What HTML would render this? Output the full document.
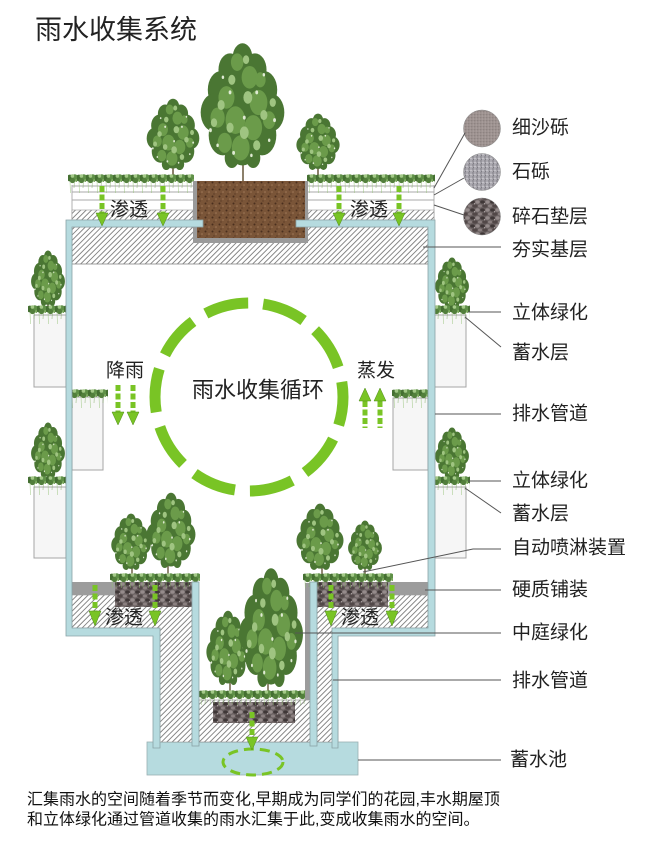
<!DOCTYPE html>
<html><head><meta charset="utf-8">
<style>
html,body{margin:0;padding:0;background:#fff;}
svg{display:block;}
text{font-family:"Liberation Sans","Noto Sans CJK SC",sans-serif;fill:#222;}
</style></head><body>
<svg width="660" height="850" viewBox="0 0 660 850" xmlns="http://www.w3.org/2000/svg">
<defs>
<pattern id="hatch" width="3.8" height="3.8" patternUnits="userSpaceOnUse" patternTransform="rotate(45)">
 <rect width="3.8" height="3.8" fill="#fff"/>
 <line x1="0.5" y1="0" x2="0.5" y2="3.8" stroke="#7d7d7d" stroke-width="0.9"/>
</pattern>
<pattern id="grass" width="9" height="22" patternUnits="userSpaceOnUse">
 <line x1="2" y1="8" x2="2.6" y2="20" stroke="#8fbf70" stroke-width="0.8" opacity="0.55"/>
 <line x1="6.5" y1="8" x2="6" y2="15" stroke="#7aa85c" stroke-width="0.8" opacity="0.55"/>
 <circle cx="2" cy="5" r="3.4" fill="#446f31"/>
 <circle cx="6.8" cy="4.5" r="3.2" fill="#5f9047"/>
 <circle cx="4.5" cy="7.5" r="2.6" fill="#527f3b"/>
 <circle cx="4.4" cy="3" r="1.8" fill="#a3c987"/>
 <circle cx="8.5" cy="7.5" r="1.5" fill="#7aa85c"/>
</pattern>
<pattern id="gravel" width="10" height="8" patternUnits="userSpaceOnUse">
 <rect width="10" height="8" fill="#6a6161"/>
 <ellipse cx="2.5" cy="2" rx="2.3" ry="1.6" fill="#3f3737"/>
 <ellipse cx="7.5" cy="2" rx="2.2" ry="1.7" fill="#958b8b"/>
 <ellipse cx="5" cy="6" rx="2.6" ry="1.7" fill="#524848"/>
 <ellipse cx="0" cy="6" rx="2" ry="1.5" fill="#8b8080"/>
 <ellipse cx="10" cy="6" rx="2" ry="1.5" fill="#8b8080"/>
 <circle cx="4.6" cy="3.8" r="0.6" fill="#c8c0c0"/>
</pattern>
<pattern id="soil" width="7" height="7" patternUnits="userSpaceOnUse">
 <rect width="7" height="7" fill="#7a5538"/>
 <circle cx="1.5" cy="1.5" r="1" fill="#4a2f1e"/>
 <circle cx="5" cy="4" r="0.8" fill="#a07858"/>
 <circle cx="3" cy="6" r="0.7" fill="#5a3b26"/>
</pattern>
<pattern id="sand" width="3" height="3" patternUnits="userSpaceOnUse">
 <rect width="3" height="3" fill="#9d9290"/>
 <circle cx="0.8" cy="0.8" r="0.5" fill="#7a706e"/>
 <circle cx="2.2" cy="2" r="0.5" fill="#bcb3b1"/>
</pattern>
<pattern id="stone" width="4" height="4" patternUnits="userSpaceOnUse">
 <rect width="4" height="4" fill="#a9a7ae"/>
 <circle cx="1" cy="1" r="0.7" fill="#76737b"/>
 <circle cx="3" cy="2.5" r="0.8" fill="#cfcdd2"/>
 <circle cx="1.5" cy="3.2" r="0.5" fill="#5f5c63"/>
</pattern>
<symbol id="crown" viewBox="0 0 100 100" preserveAspectRatio="none">
 <g fill="#4a7633">
  <circle cx="50" cy="12" r="11"/><circle cx="36" cy="22" r="13"/><circle cx="64" cy="22" r="13"/>
  <circle cx="26" cy="38" r="15"/><circle cx="74" cy="38" r="15"/><circle cx="50" cy="32" r="18"/>
  <circle cx="18" cy="56" r="15"/><circle cx="82" cy="56" r="15"/><circle cx="50" cy="55" r="24"/>
  <circle cx="28" cy="74" r="16"/><circle cx="72" cy="74" r="16"/><circle cx="50" cy="80" r="18"/>
  <circle cx="38" cy="92" r="8"/><circle cx="62" cy="92" r="8"/>
 </g>
 <g fill="#6b9b4a">
  <circle cx="44" cy="16" r="7"/><circle cx="58" cy="28" r="9"/><circle cx="32" cy="44" r="9"/>
  <circle cx="68" cy="48" r="10"/><circle cx="42" cy="62" r="11"/><circle cx="62" cy="68" r="10"/>
  <circle cx="22" cy="60" r="8"/><circle cx="80" cy="62" r="7"/><circle cx="48" cy="84" r="10"/>
  <circle cx="30" cy="80" r="8"/><circle cx="70" cy="30" r="6"/>
 </g>
 <g fill="#9fc481">
  <circle cx="38" cy="30" r="4"/><circle cx="56" cy="44" r="5"/><circle cx="26" cy="50" r="4"/>
  <circle cx="74" cy="58" r="4"/><circle cx="52" cy="72" r="5"/><circle cx="36" cy="68" r="4"/>
  <circle cx="66" cy="82" r="4"/><circle cx="18" cy="64" r="3.5"/><circle cx="84" cy="48" r="3.5"/>
  <circle cx="54" cy="14" r="3.5"/>
 </g>
 <g fill="#dfead3">
  <circle cx="36" cy="40" r="1.6"/><circle cx="66" cy="40" r="1.6"/><circle cx="52" cy="60" r="1.6"/>
  <circle cx="40" cy="88" r="1.6"/><circle cx="14" cy="70" r="1.6"/><circle cx="86" cy="62" r="1.6"/>
  <circle cx="28" cy="28" r="1.4"/><circle cx="74" cy="26" r="1.4"/><circle cx="60" cy="90" r="1.4"/>
  <circle cx="22" cy="82" r="1.4"/><circle cx="80" cy="78" r="1.4"/>
 </g>
</symbol>
</defs>

<!-- Title -->
<text x="35" y="30" font-size="27" dominant-baseline="central">雨水收集系统</text>

<!-- trees top -->
<g stroke="#6f6046" stroke-width="1.6">
 <line x1="243" y1="140" x2="243" y2="183"/>
 <line x1="173" y1="150" x2="173" y2="180"/>
 <line x1="318" y1="155" x2="318" y2="180"/>
</g>
<use href="#crown" x="145" y="98" width="56" height="72"/>
<use href="#crown" x="295" y="113" width="46" height="57"/>
<use href="#crown" x="198" y="42" width="89" height="126"/>

<!-- roof planter layers -->
<g stroke="#aaa" stroke-width="0.9">
 <line x1="72" y1="186" x2="193" y2="186"/><line x1="72" y1="192" x2="193" y2="192"/>
 <line x1="72" y1="200" x2="193" y2="200"/>
 <line x1="308" y1="186" x2="434" y2="186"/><line x1="308" y1="192" x2="434" y2="192"/>
 <line x1="308" y1="200" x2="434" y2="200"/>
 <line x1="72" y1="185" x2="72" y2="220"/><line x1="434" y1="185" x2="434" y2="220"/>
</g>
<rect x="72" y="210" width="121" height="10" fill="url(#hatch)" stroke="#999" stroke-width="0.6"/>
<rect x="308" y="210" width="126" height="10" fill="url(#hatch)" stroke="#999" stroke-width="0.6"/>
<rect x="0" y="0" width="126" height="22" fill="url(#grass)" transform="translate(68,173)"/>
<rect x="0" y="0" width="128" height="22" fill="url(#grass)" transform="translate(307,173)"/>

<!-- base hatch -->
<rect x="72" y="227" width="356" height="37" fill="url(#hatch)" stroke="#888" stroke-width="0.8"/>

<!-- soil box -->
<rect x="193" y="181" width="115" height="62" fill="#9a9a9a"/>
<rect x="0" y="0" width="108" height="57" fill="url(#soil)" transform="translate(197,181)"/>

<!-- wall planters -->
<g fill="#f6f6f6" stroke="#a5a5a5" stroke-width="1">
 <rect x="34" y="315" width="32" height="72"/>
 <rect x="34" y="487" width="32" height="71"/>
 <rect x="72" y="397" width="31" height="73"/>
 <rect x="393" y="398" width="35" height="72"/>
 <rect x="434" y="315" width="32" height="72"/>
 <rect x="434" y="487" width="32" height="71"/>
</g>
<g stroke="#6f6046" stroke-width="1.4">
 <line x1="48" y1="290" x2="48" y2="312"/><line x1="48" y1="460" x2="48" y2="482"/>
 <line x1="452" y1="290" x2="452" y2="312"/><line x1="452" y1="460" x2="452" y2="482"/>
</g>
<use href="#crown" x="30" y="250" width="36" height="56"/>
<use href="#crown" x="30" y="422" width="36" height="56"/>
<use href="#crown" x="434" y="257" width="36" height="52"/>
<use href="#crown" x="434" y="427" width="36" height="52"/>
<rect x="0" y="0" width="38" height="20" fill="url(#grass)" transform="translate(28,304)"/>
<rect x="0" y="0" width="38" height="20" fill="url(#grass)" transform="translate(28,475)"/>
<rect x="0" y="0" width="38" height="20" fill="url(#grass)" transform="translate(70,388)"/>
<rect x="0" y="0" width="36" height="20" fill="url(#grass)" transform="translate(392,388)"/>
<rect x="0" y="0" width="38" height="20" fill="url(#grass)" transform="translate(432,304)"/>
<rect x="0" y="0" width="38" height="20" fill="url(#grass)" transform="translate(432,475)"/>

<!-- cycle circle -->
<circle cx="249" cy="397" r="94" fill="none" stroke="#79c425" stroke-width="11" stroke-dasharray="44 15.06" stroke-dashoffset="15.46"/>
<text x="192" y="390" font-size="22" dominant-baseline="central">雨水收集循环</text>
<text x="106" y="371" font-size="19" dominant-baseline="central">降雨</text>
<text x="357" y="371" font-size="19" dominant-baseline="central">蒸发</text>

<!-- bottom pool -->
<rect x="147" y="742" width="211" height="33" fill="#b6dbdf" stroke="#9ab0b2" stroke-width="0.8"/>
<ellipse cx="253" cy="762" rx="30" ry="13" fill="none" stroke="#79c425" stroke-width="3" stroke-dasharray="10 6"/>

<!-- bottom left zone -->
<path d="M72,595 H192 V742 H160 V628 H72 Z" fill="url(#hatch)" stroke="#888" stroke-width="0.6"/>
<rect x="72" y="582" width="43" height="13" fill="#9c9c9c"/>
<rect x="0" y="0" width="77" height="25" fill="url(#gravel)" transform="translate(115,582)"/>
<!-- bottom right zone -->
<path d="M317,595 H428 V628 H338 V742 H317 Z" fill="url(#hatch)" stroke="#888" stroke-width="0.6"/>
<rect x="388" y="582" width="40" height="13" fill="#9c9c9c"/>
<rect x="0" y="0" width="71" height="25" fill="url(#gravel)" transform="translate(317,582)"/>
<!-- courtyard -->
<rect x="199" y="700" width="111" height="42" fill="url(#hatch)" stroke="#888" stroke-width="0.6"/>
<rect x="305" y="583" width="5" height="117" fill="#9c9c9c"/>
<rect x="0" y="0" width="82" height="21" fill="url(#gravel)" transform="translate(213,702)"/>

<!-- bottom trees -->
<g stroke="#6f6046" stroke-width="1.5">
 <line x1="132" y1="550" x2="132" y2="578"/><line x1="168" y1="545" x2="168" y2="578"/>
 <line x1="322" y1="550" x2="322" y2="578"/><line x1="365" y1="555" x2="365" y2="578"/>
 <line x1="268" y1="650" x2="268" y2="694"/><line x1="230" y1="660" x2="230" y2="694"/>
</g>
<use href="#crown" x="110" y="513" width="42" height="57"/>
<use href="#crown" x="145" y="492" width="52" height="76"/>
<use href="#crown" x="295" y="503" width="50" height="67"/>
<use href="#crown" x="347" y="520" width="36" height="50"/>
<use href="#crown" x="205" y="610" width="46" height="75"/>
<use href="#crown" x="237" y="567" width="68" height="120"/>
<rect x="0" y="0" width="90" height="16" fill="url(#grass)" transform="translate(110,572)"/>
<rect x="0" y="0" width="90" height="16" fill="url(#grass)" transform="translate(303,572)"/>
<rect x="0" y="0" width="106" height="16" fill="url(#grass)" transform="translate(199,689)"/>

<!-- pipes -->
<g fill="#b6dbdf" stroke="#8aa3a6" stroke-width="0.8">
 <path d="M66,220 H203 V227 H72 V628 H160 V748 H153 V636 H66 Z"/>
 <path d="M296,220 H435 V636 H338 V748 H332 V628 H428 V227 H296 Z"/>
 <rect x="192" y="582" width="7" height="164"/>
 <rect x="310" y="582" width="7" height="164"/>
</g>

<!-- arrows -->
<g stroke="#79c425" stroke-width="5" stroke-dasharray="6 2.5">
 <line x1="102" y1="186" x2="102" y2="214"/><line x1="163" y1="186" x2="163" y2="214"/>
 <line x1="339" y1="186" x2="339" y2="214"/><line x1="399" y1="186" x2="399" y2="214"/>
 <line x1="118" y1="385" x2="118" y2="413"/><line x1="133" y1="385" x2="133" y2="413"/>
 <line x1="365" y1="401" x2="365" y2="428"/><line x1="380" y1="401" x2="380" y2="428"/>
 <line x1="95" y1="585" x2="95" y2="612"/><line x1="155" y1="585" x2="155" y2="612"/>
 <line x1="331" y1="585" x2="331" y2="612"/><line x1="392" y1="585" x2="392" y2="612"/>
 <line x1="252" y1="712" x2="252" y2="738"/>
</g>
<g fill="#79c425" stroke="#4f8a1a" stroke-width="0.5">
 <polygon points="96,213 108,213 102,226"/><polygon points="157,213 169,213 163,226"/>
 <polygon points="333,213 345,213 339,226"/><polygon points="393,213 405,213 399,226"/>
 <polygon points="112,412 124,412 118,425"/><polygon points="127,412 139,412 133,425"/>
 <polygon points="359,401 371,401 365,388"/><polygon points="374,401 386,401 380,388"/>
 <polygon points="89,611 101,611 95,626"/><polygon points="149,611 161,611 155,626"/>
 <polygon points="325,611 337,611 331,626"/><polygon points="386,611 398,611 392,626"/>
 <polygon points="246,737 258,737 252,750"/>
</g>

<!-- 渗透 labels -->
<text x="110" y="210" font-size="19" dominant-baseline="central">渗透</text>
<text x="350" y="210" font-size="19" dominant-baseline="central">渗透</text>
<text x="105" y="618" font-size="19" dominant-baseline="central">渗透</text>
<text x="341" y="618" font-size="19" dominant-baseline="central">渗透</text>

<!-- material circles -->
<circle cx="482" cy="128.5" r="18.5" fill="url(#sand)" stroke="#8a8a8a" stroke-width="0.5"/>
<circle cx="482" cy="172" r="18.5" fill="url(#stone)" stroke="#8a8a8a" stroke-width="0.5"/>
<circle cx="482" cy="216.5" r="18.5" fill="url(#gravel)" stroke="#8a8a8a" stroke-width="0.5"/>

<!-- leader lines -->
<g stroke="#555" stroke-width="1" fill="none">
 <line x1="434" y1="188" x2="465" y2="133"/>
 <line x1="434" y1="195" x2="464" y2="178"/>
 <line x1="434" y1="205" x2="464" y2="215"/>
 <line x1="423" y1="247" x2="501" y2="247"/>
 <line x1="468" y1="312" x2="501" y2="312"/>
 <line x1="465" y1="317" x2="501" y2="347"/>
 <line x1="435" y1="414" x2="501" y2="414"/>
 <line x1="468" y1="481" x2="501" y2="481"/>
 <line x1="465" y1="488" x2="501" y2="513"/>
 <polyline points="501,549 473,549 363,572"/>
 <line x1="425" y1="590" x2="501" y2="590"/>
 <line x1="295" y1="633" x2="501" y2="633"/>
 <line x1="333" y1="680" x2="501" y2="680"/>
 <line x1="358" y1="760" x2="501" y2="760"/>
</g>

<!-- right labels -->
<g font-size="19" dominant-baseline="central">
 <text x="512" y="128">细沙砾</text>
 <text x="512" y="172">石砾</text>
 <text x="512" y="217">碎石垫层</text>
 <text x="512" y="250">夯实基层</text>
 <text x="512" y="313">立体绿化</text>
 <text x="512" y="353">蓄水层</text>
 <text x="512" y="414">排水管道</text>
 <text x="512" y="481">立体绿化</text>
 <text x="512" y="514">蓄水层</text>
 <text x="512" y="548">自动喷淋装置</text>
 <text x="512" y="590">硬质铺装</text>
 <text x="512" y="633">中庭绿化</text>
 <text x="512" y="681">排水管道</text>
 <text x="510" y="760">蓄水池</text>
</g>

<!-- caption -->
<text x="27" y="800" font-size="16" dominant-baseline="central" style="fill:#111">汇集雨水的空间随着季节而变化,早期成为同学们的花园,丰水期屋顶</text>
<text x="27" y="820" font-size="16" dominant-baseline="central" style="fill:#111">和立体绿化通过管道收集的雨水汇集于此,变成收集雨水的空间。</text>
</svg>
</body></html>
